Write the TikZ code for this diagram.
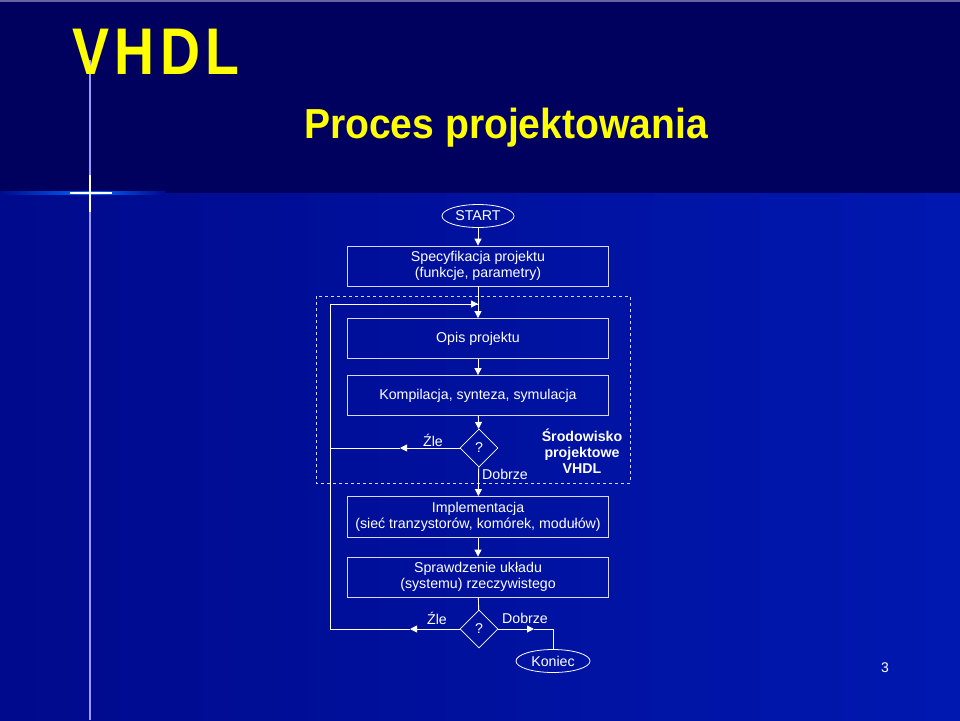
\documentclass[tikz,border=0pt]{standalone}
\usepackage{fontspec}
\setmainfont{Liberation Sans}
\usetikzlibrary{shapes.geometric,arrows.meta}
\definecolor{navytop}{HTML}{00005E}
\definecolor{navylow}{HTML}{000A8C}
\definecolor{navyright}{HTML}{0018B0}
\definecolor{titleyellow}{HTML}{FFFF00}
\tikzset{
  stepbox/.style={draw=white!85!blue, line width=0.8pt, minimum width=261pt, minimum height=40pt,
    text=white, align=center, font=\fontsize{14.2}{16}\selectfont, inner sep=0pt},
  terminal/.style={ellipse, draw=white, line width=0.8pt, minimum width=72pt, minimum height=23pt,
    text=white, font=\fontsize{14.2}{16}\selectfont, inner sep=0pt},
  decision/.style={diamond, draw=white, line width=0.8pt, minimum width=38pt, minimum height=38pt,
    text=white, font=\fontsize{14.2}{16}\selectfont, inner sep=0pt},
  flow/.style={draw=white, line width=0.9pt, -{Triangle[length=7pt,width=7pt]}},
  plain/.style={draw=white, line width=0.9pt},
  lbl/.style={text=white, font=\fontsize{14.2}{16}\selectfont, inner sep=0pt}
}
\begin{document}
\begin{tikzpicture}[x=1pt,y=-1pt]
\useasboundingbox (0,0) rectangle (960,720);
% background
\fill[navytop] (0,0) rectangle (960,193);
\shade[left color=navylow, right color=navyright] (0,193) rectangle (960,720);
\fill[white!40!navytop] (0,0) rectangle (960,1.5);
% flare
\shade[left color=navylow, right color=blue!60!cyan] (0,191.5) rectangle (90,194.5);
\shade[left color=blue!60!cyan, right color=navylow] (90,191.5) rectangle (165,194.5);
\draw[blue!40!white, line width=1.2pt] (90,60) -- (90,720);
\draw[white, line width=2pt] (90,175) -- (90,212);
\draw[white, line width=1.5pt] (70,193) -- (112,193);
% titles
\node[text=titleyellow, font=\bfseries\fontsize{66}{66}\selectfont, xscale=0.84, anchor=west] (vhdl) at (70,52) {V\kern6pt H\kern6pt D\kern6pt L};
\node[text=titleyellow, font=\bfseries\fontsize{42}{42}\selectfont, xscale=0.93] (title) at (506,128) {Proces projektowania};
% dashed environment
\draw[white!85!blue, dashed, line width=0.9pt] (316,296) rectangle (630,483);
\node[text=white, font=\bfseries\fontsize{14.2}{16}\selectfont, align=center] (env) at (582,451) {Środowisko\\projektowe\\VHDL};
% flowchart
\node[terminal] (start) at (478,216) {START};
\node[stepbox] (spec) at (478,266) {Specyfikacja projektu\\(funkcje, parametry)};
\node[stepbox] (opis) at (478,338.5) {Opis projektu};
\node[stepbox] (komp) at (478,395.5) {Kompilacja, synteza, symulacja};
\node[decision] (test1) at (479,448) {?};
\node[stepbox, minimum height=41pt] (impl) at (478,517) {Implementacja\\(sieć tranzystorów, komórek, modułów)};
\node[stepbox] (spr) at (478,577) {Sprawdzenie układu\\(systemu) rzeczywistego};
\node[decision] (test2) at (479,629) {?};
\node[terminal, minimum width=74pt] (koniec) at (553,661) {Koniec};
% labels
\node[lbl] (zle1) at (433,440) {Źle};
\node[lbl] (dobrze1) at (505,474) {Dobrze};
\node[lbl] (zle2) at (437,618) {Źle};
\node[lbl] (dobrze2) at (525,618) {Dobrze};
\node[text=white, font=\fontsize{14}{16}\selectfont] (page) at (885,668) {3};
% coordinates
\coordinate (m1) at (400,448);
\coordinate (m2) at (410,629);
\coordinate (back) at (330,629);
\coordinate (top) at (330,304);
\coordinate (join) at (478,304);
\coordinate (m3) at (534,629);
\coordinate (turn) at (553,629);
% connectors
\draw[flow] (start) -- (spec);
\draw[flow] (spec) -- (opis);
\draw[flow] (opis) -- (komp);
\draw[flow] (komp) -- (test1);
\draw[flow] (test1) -- (impl);
\draw[flow] (test1) -- (m1);
\draw[plain] (m1) -- (330,448);
\draw[flow] (impl) -- (spr);
\draw[plain] (spr) -- (test2);
\draw[flow] (test2) -- (m2);
\draw[plain] (m2) -- (back) -- (top) -- (join);
\draw[flow] (top) -- (join);
\draw[flow] (test2) -- (m3);
\draw[plain] (m3) -- (turn) -- (koniec);
\end{tikzpicture}
\end{document}
